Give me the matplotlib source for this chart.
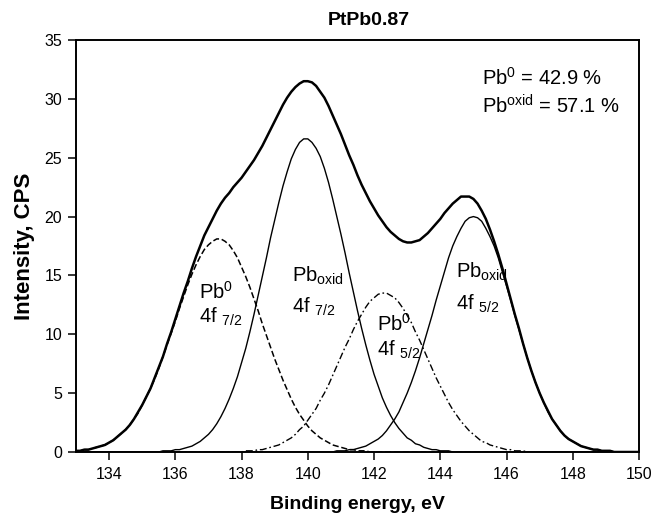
import numpy as np
import matplotlib
matplotlib.use("Agg")
import matplotlib.pyplot as plt

plt.rcParams['font.family'] = ['Liberation Sans', 'DejaVu Sans']
plt.rcParams['mathtext.fontset'] = 'custom'
plt.rcParams['mathtext.rm'] = 'Liberation Sans'
plt.rcParams['mathtext.it'] = 'Liberation Sans:italic'
plt.rcParams['mathtext.bf'] = 'Liberation Sans:bold'

# ---- data (binding energy grid step 0.125 eV) ----
step = 0.125
e_min, e_max = 133.0, 150.0

pb0_72_start = 133.0
pb0_72 = [0.1, 0.1, 0.2, 0.2, 0.3, 0.4, 0.5, 0.6, 0.8, 1.0, 1.3, 1.6, 1.9, 2.3,
          2.8, 3.3, 4.0, 4.7, 5.4, 6.2, 7.1, 8.1, 9.1, 10.1, 11.1, 12.2, 13.2, 14.2,
          15.1, 15.9, 16.6, 17.2, 17.6, 17.9, 18.1, 18.1, 17.9, 17.6, 17.1, 16.5, 15.7, 14.9,
          14.0, 13.0, 12.0, 10.9, 9.9, 8.9, 7.9, 7.0, 6.1, 5.3, 4.5, 3.8, 3.2, 2.7,
          2.2, 1.8, 1.5, 1.2, 1.0, 0.8, 0.6, 0.5, 0.4, 0.3, 0.2, 0.2, 0.1, 0.1,
          0.1]

pbox_72_start = 135.625
pbox_72 = [0.1, 0.1, 0.1, 0.2, 0.2, 0.3, 0.4, 0.5, 0.7, 0.9, 1.2, 1.5, 1.9, 2.4,
           3.0, 3.7, 4.5, 5.4, 6.4, 7.6, 8.8, 10.2, 11.7, 13.3, 14.9, 16.5, 18.2, 19.7,
           21.2, 22.6, 23.8, 24.9, 25.7, 26.3, 26.6, 26.6, 26.3, 25.8, 25.1, 24.1, 22.9, 21.5,
           20.0, 18.5, 16.9, 15.2, 13.6, 12.0, 10.5, 9.1, 7.8, 6.6, 5.6, 4.6, 3.8, 3.1,
           2.5, 2.0, 1.6, 1.2, 1.0, 0.7, 0.6, 0.4, 0.3, 0.2, 0.2, 0.1, 0.1, 0.1]

pb0_52_start = 138.125
pb0_52 = [0.1, 0.1, 0.1, 0.2, 0.2, 0.3, 0.4, 0.5, 0.6, 0.8, 1.0, 1.2, 1.5, 1.9,
          2.2, 2.7, 3.2, 3.7, 4.4, 5.0, 5.7, 6.5, 7.3, 8.1, 8.9, 9.6, 10.4, 11.1,
          11.7, 12.3, 12.8, 13.1, 13.4, 13.5, 13.5, 13.3, 13.1, 12.7, 12.2, 11.6, 11.0, 10.2,
          9.5, 8.7, 7.9, 7.1, 6.3, 5.6, 4.9, 4.2, 3.6, 3.1, 2.6, 2.2, 1.8, 1.5,
          1.2, 0.9, 0.8, 0.6, 0.5, 0.4, 0.3, 0.2, 0.2, 0.1, 0.1, 0.1]

pbox_52_start = 140.875
pbox_52 = [0.1, 0.1, 0.1, 0.2, 0.2, 0.3, 0.4, 0.5, 0.7, 0.9, 1.1, 1.4, 1.8, 2.3,
           2.8, 3.4, 4.2, 5.0, 5.9, 6.9, 8.0, 9.2, 10.4, 11.6, 12.9, 14.1, 15.3, 16.5,
           17.5, 18.3, 19.0, 19.6, 19.9, 20.0, 19.9, 19.6, 19.0, 18.3, 17.5, 16.5, 15.3, 14.1,
           12.9, 11.6, 10.4, 9.2, 8.0, 6.9, 5.9, 5.0, 4.2, 3.4, 2.8, 2.3, 1.8, 1.4,
           1.1, 0.9, 0.7, 0.5, 0.4, 0.3, 0.2, 0.2, 0.1, 0.1, 0.1]

# measured envelope (total fit), full range 133.0 ... 150.0
envelope_vals = [0.1, 0.1, 0.2, 0.2, 0.3, 0.4, 0.5, 0.6, 0.8, 1.0, 1.3, 1.6, 1.9, 2.3,
                 2.8, 3.4, 4.0, 4.7, 5.4, 6.3, 7.2, 8.1, 9.2, 10.2, 11.3, 12.4, 13.5, 14.5,
                 15.6, 16.6, 17.5, 18.4, 19.1, 19.8, 20.5, 21.1, 21.6, 22.0, 22.5, 22.9, 23.3, 23.8,
                 24.3, 24.8, 25.4, 26.0, 26.7, 27.4, 28.1, 28.8, 29.5, 30.1, 30.6, 31.0, 31.3, 31.5,
                 31.5, 31.4, 31.1, 30.6, 30.1, 29.4, 28.6, 27.8, 27.0, 26.1, 25.2, 24.4, 23.5, 22.7,
                 22.0, 21.3, 20.7, 20.1, 19.6, 19.1, 18.7, 18.4, 18.1, 17.9, 17.8, 17.8, 17.9, 18.0,
                 18.3, 18.6, 19.0, 19.4, 19.8, 20.3, 20.7, 21.1, 21.4, 21.7, 21.7, 21.7, 21.5, 21.1,
                 20.5, 19.8, 18.9, 17.9, 16.8, 15.6, 14.3, 13.0, 11.7, 10.5, 9.2, 8.0, 6.9, 5.9,
                 5.0, 4.2, 3.5, 2.8, 2.3, 1.8, 1.4, 1.1, 0.9, 0.7, 0.5, 0.4, 0.3, 0.2,
                 0.2, 0.1, 0.1, 0.1, 0.0, 0.0, 0.0, 0.0, 0.0, 0.0, 0.0]

title = "PtPb0.87"
xlabel = "Binding energy, eV"
ylabel = "Intensity, CPS"
xticks = [134, 136, 138, 140, 142, 144, 146, 148, 150]
yticks = [0, 5, 10, 15, 20, 25, 30, 35]
pct_pb0 = 42.9
pct_pbox = 57.1

# ---- build full-range arrays ----
n = int(round((e_max - e_min) / step)) + 1
energy = e_min + step * np.arange(n)

def pad(start, vals):
    arr = np.zeros(n)
    i0 = int(round((start - e_min) / step))
    arr[i0:i0 + len(vals)] = vals
    return arr

c1 = pad(pb0_72_start, pb0_72)
c2 = pad(pbox_72_start, pbox_72)
c3 = pad(pb0_52_start, pb0_52)
c4 = pad(pbox_52_start, pbox_52)
envelope = pad(e_min, envelope_vals)

# ---- figure ----
fig = plt.figure(figsize=(6.54, 5.15), dpi=100)
ax = fig.add_axes([76/654, 1 - 452/515, (639 - 76)/654, (452 - 40)/515])

ax.plot(energy, c1, color='black', lw=1.1, dashes=(4, 1.8))
ax.plot(energy, c2, color='black', lw=1.0)
ax.plot(energy, c3, color='black', lw=1.0, dashes=(5, 2, 1.2, 2))
ax.plot(energy, c4, color='black', lw=1.0)
ax.plot(energy, envelope, color='black', lw=1.8, solid_joinstyle='round')

ax.set_xlim(e_min, e_max)
ax.set_ylim(0, 35)
ax.set_xticks(xticks)
ax.set_yticks(yticks)
ax.tick_params(direction='out', length=6, width=1.1, labelsize=11.5, pad=4,
               top=False, right=False)
ax.tick_params(axis='x', pad=5)
for s in ax.spines.values():
    s.set_linewidth(1.4)

ax.set_title(title, fontsize=14, fontweight='bold', pad=11, x=0.52)
ax.set_xlabel(xlabel, fontsize=14, fontweight='bold', labelpad=10)
ax.set_ylabel(ylabel, fontsize=16, fontweight='bold', labelpad=7)

fs = 14.5
ax.text(136.7, 13.0, r"Pb$^{0}$", fontsize=fs, va='baseline')
ax.text(136.7, 11.0, r"4f $_{7/2}$", fontsize=fs, va='baseline')
ax.text(139.52, 14.47, r"Pb$_{\rm oxid}$", fontsize=fs, va='baseline')
ax.text(139.52, 11.84, r"4f $_{7/2}$", fontsize=fs, va='baseline')
ax.text(142.09, 10.28, r"Pb$^{0}$", fontsize=fs, va='baseline')
ax.text(142.09, 8.16, r"4f $_{5/2}$", fontsize=fs, va='baseline')
ax.text(144.48, 14.81, r"Pb$_{\rm oxid}$", fontsize=fs, va='baseline')
ax.text(144.48, 12.12, r"4f $_{5/2}$", fontsize=fs, va='baseline')

ax.text(145.25, 31.18, r"Pb$^{0}$ = %.1f %%" % pct_pb0, fontsize=fs, va='baseline')
ax.text(145.25, 28.78, r"Pb$^{\rm oxid}$ = %.1f %%" % pct_pbox, fontsize=fs, va='baseline')

fig.savefig("out.png", dpi=100)
